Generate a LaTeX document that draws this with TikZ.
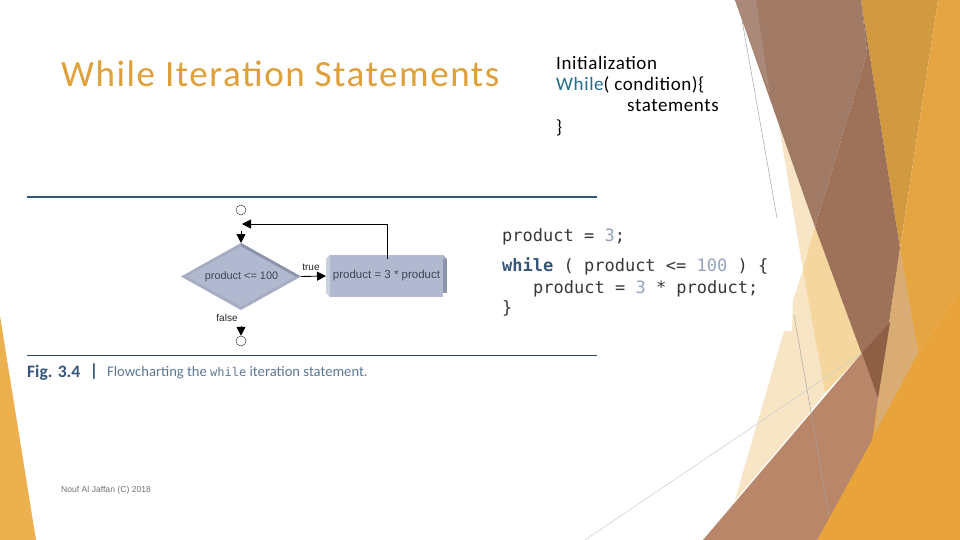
\documentclass[tikz,border=0pt]{standalone}
\usepackage{fontspec}
\usepackage{xcolor}
\setmainfont{Carlito}
\newfontfamily\spacedfont[LetterSpace=3.2]{Carlito}
\newfontfamily\titlefont[LetterSpace=4.2]{Carlito}
\newfontfamily\codefont{DejaVu Sans Mono}
\newfontfamily\chartfont{Liberation Sans}
\usetikzlibrary{shapes.geometric,arrows.meta}
\definecolor{titleorange}{HTML}{DF9F39}
\definecolor{rulecolor}{HTML}{34567A}
\definecolor{whilecolor}{HTML}{1F6C8E}
\definecolor{bevelmid}{HTML}{B1B9D1}
\definecolor{beveldark}{HTML}{8C94AC}
\definecolor{bevellight}{HTML}{C9CFDF}
\definecolor{beveltop}{HTML}{A6ADC3}
\definecolor{numcolor}{HTML}{93A3BE}
\definecolor{boxink}{HTML}{3F4558}
\begin{document}
\begin{tikzpicture}[x=1pt,y=-1pt]
\tikzset{
  codeline/.style={anchor=west,inner sep=0pt,font=\codefont\fontsize{17}{17}\selectfont,text=black!78},
  sideline/.style={anchor=west,inner sep=0pt,font=\spacedfont\fontsize{19}{19}\selectfont},
  chartlabel/.style={inner sep=0pt,font=\chartfont\fontsize{10}{10}\selectfont,text=black!85},
  boxtext/.style={inner sep=0pt,text=boxink},
  endpoint/.style={circle,draw=black!75,fill=white,line width=0.5pt,minimum size=10pt,inner sep=0pt},
  flow/.style={draw=black,line width=0.9pt,-{Triangle[length=9pt,width=9pt]}},
}
\useasboundingbox (0,0) rectangle (960,540);
\fill [white] (0,0) rectangle (960,540);
% background shapes
\fill [color={rgb,255:red,237;green,176;blue,79}] (0,316) -- (36,540) -- (0,540) -- cycle;
\fill [color={rgb,255:red,248;green,229;blue,197}] (778,120) -- (815,227) -- (825,393) -- (810,412) -- (735,500) -- (784,331) -- (792,331) -- (793,300) -- (803,270) -- cycle;
\fill [color={rgb,255:red,245;green,214;blue,158}] (815,227) -- (862,353) -- (825,393) -- (803,270) -- cycle;
\fill [color={rgb,255:red,210;green,154;blue,64}] (861,0) -- (938,0) -- (900,248) -- cycle;
\fill [color={rgb,255:red,229;green,165;blue,66}] (938,0) -- (960,0) -- (960,290) -- (918,353) -- (908,300) -- (897,270) -- (900,248) -- cycle;
\fill [color={rgb,255:red,232;green,163;blue,58}] (817,540) -- (868,440) -- (878,398) -- (918,353) -- (960,290) -- (960,540) -- cycle;
\fill [color={rgb,255:red,161;green,122;blue,102}] (735,0) -- (861,0) -- (867,53) -- (815,227) -- cycle;
\fill [color={rgb,255:red,170;green,137;blue,122}] (735,0) -- (756,0) -- (770,95) -- cycle;
\fill [color={rgb,255:red,157;green,114;blue,89}] (861,0) -- (900,248) -- (897,270) -- (878,398) -- (815,227) -- (867,53) -- cycle;
\fill [color={rgb,255:red,217;green,172;blue,116}] (900,248) -- (918,353) -- (875,433) -- (878,398) -- cycle;
\fill [color={rgb,255:red,185;green,134;blue,106}] (703,540) -- (862,353) -- (890,322) -- (878,398) -- (872,440) -- (817,540) -- cycle;
\fill [color={rgb,255:red,143;green,95;blue,69}] (862,353) -- (890,322) -- (878,398) -- cycle;
\draw [black!35,line width=0.5pt] (742,20) -- (777,218);
\draw [black!35,line width=0.5pt] (794,315) -- (829,515);
\draw [black!20,line width=0.5pt] (585,540) -- (862,353);
% slide text
\node [anchor=west,inner sep=0pt,text=titleorange,font=\titlefont\fontsize{37}{37}\selectfont] (title) at (61,74) {While Iteration Statements};
\node [sideline] (init) at (556,63) {Initialization};
\node [sideline] (cond) at (556,85) {\textcolor{whilecolor}{While}( condition)\{};
\node [sideline] (stmt) at (627,106) {statements};
\node [sideline] (close) at (556,128) {\}};
\node [anchor=west,inner sep=0pt,text=black!55,font=\chartfont\fontsize{8.6}{8.6}\selectfont] (footer) at (61,490) {Nouf Al Jaffan (C) 2018};
% figure rules
\coordinate (ruleAl) at (27,196.5);
\coordinate (ruleAr) at (597,196.5);
\coordinate (ruleBl) at (27,355);
\coordinate (ruleBr) at (597,355);
\draw [rulecolor,line width=2pt] (ruleAl) -- (ruleAr);
\draw [rulecolor!80!black,line width=1pt] (ruleBl) -- (ruleBr);
% flowchart
\node [endpoint] (start) at (241,210) {};
\node [endpoint] (stop) at (241,341) {};
\node [diamond,minimum width=120pt,minimum height=67pt,inner sep=0pt,outer sep=0pt,shape aspect=1.79,fill=beveltop] (test) at (241,276.5) {};
\node [diamond,minimum width=108pt,minimum height=60pt,inner sep=0pt,outer sep=0pt,shape aspect=1.79] (testin) at (241,276.5) {};
\fill [beveldark] (test.north) -- (test.east) -- (testin.east) -- (testin.north) -- cycle;
\fill [bevelmid] (testin.west) -- (testin.north) -- (testin.east) -- (testin.south) -- cycle;
\node [boxtext,font=\chartfont\fontsize{10.9}{10.9}\selectfont] (testtext) at (241.5,276.5) {product <= 100};
\node [minimum width=121pt,minimum height=34pt,inner sep=0pt,outer sep=0pt,fill=beveldark] (body) at (386.5,276) {};
\fill [beveltop] (body.north west) -- (body.north east) -- ([xshift=-4pt,yshift=4pt]body.north east) -- ([xshift=4pt,yshift=4pt]body.north west) -- cycle;
\fill [bevellight] (body.north west) -- ([xshift=4pt,yshift=4pt]body.north west) -- ([xshift=4pt,yshift=-4pt]body.south west) -- (body.south west) -- cycle;
\fill [bevelmid] ([xshift=4pt,yshift=-4pt]body.south west) rectangle ([xshift=-4pt,yshift=4pt]body.north east);
\node [boxtext,font=\chartfont\fontsize{11.5}{11.5}\selectfont] (bodytext) at (386.5,276) {product = 3 * product};
\node [chartlabel] (truelabel) at (311,267) {true};
\node [chartlabel] (falselabel) at (227,318) {false};
\coordinate (merge) at (242,224);
\coordinate (loopup) at (387,259);
\coordinate (intop) at (241,231);
\coordinate (outbot) at (241,326);
\draw [flow] (loopup) |- (merge);
\draw [flow] (test.east) -- (body.west);
\draw [flow] (intop) -- (test.north);
\draw [flow] (outbot) -- (stop.north);
% caption
\node [anchor=west,inner sep=0pt,text=rulecolor,font=\bfseries\fontsize{17.5}{17.5}\selectfont] (figno) at (27,373) {Fig. 3.4};
\node [anchor=center,inner sep=0pt,text=rulecolor,font=\bfseries\fontsize{17.5}{17.5}\selectfont] (figbar) at (94,372) {|};
\node [anchor=west,inner sep=0pt,text=rulecolor!80,font=\fontsize{14.6}{14.6}\selectfont] (figtext) at (107,373) {Flowcharting the {\codefont\fontsize{12}{12}\selectfont while} iteration statement.};
% code
\node [codeline] (code1) at (502,236.5) {product = \textcolor{numcolor}{3};};
\node [codeline] (code2) at (502,266.5) {\textcolor{rulecolor}{\bfseries while} ( product <= \textcolor{numcolor}{100} ) \{};
\node [codeline] (code3) at (533,288.5) {product = \textcolor{numcolor}{3} * product;};
\node [codeline] (code4) at (502,308.5) {\}};
\end{tikzpicture}
\end{document}
